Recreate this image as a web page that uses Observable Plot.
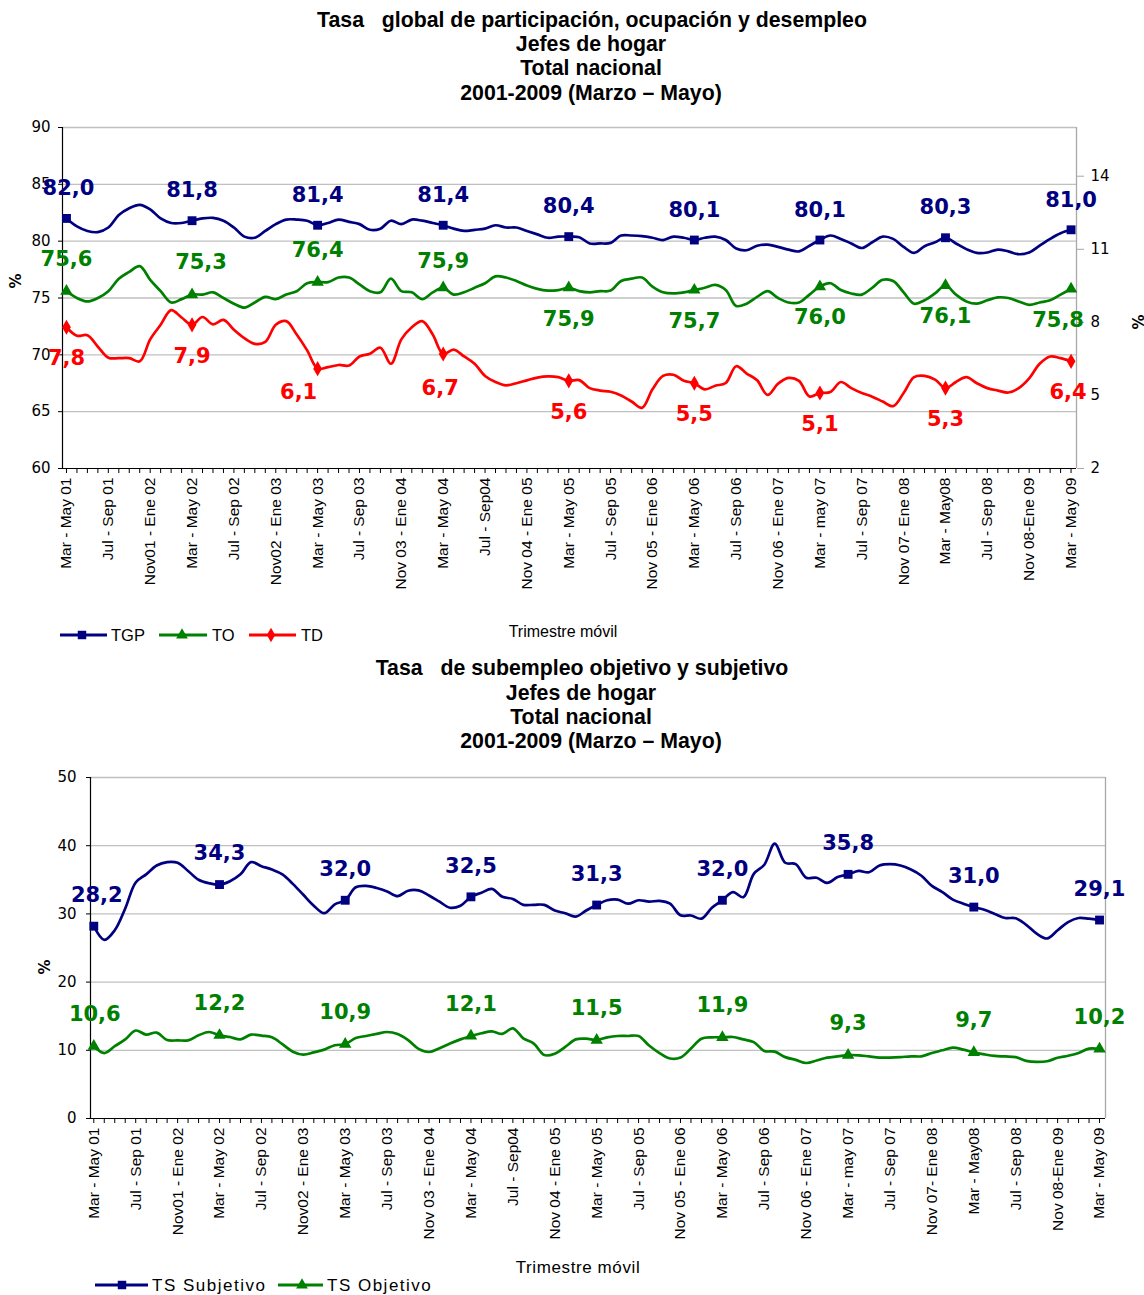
<!DOCTYPE html>
<html>
<head>
<meta charset="utf-8">
<script src="https://cdn.jsdelivr.net/npm/d3@7"></script>
<script src="https://cdn.jsdelivr.net/npm/@observablehq/plot@0.6"></script>
<style>
  body { margin: 0; background: #fff; font-family: "Liberation Sans", Arial, sans-serif; }
  #wrap { position: relative; width: 1144px; height: 1295px; overflow: hidden; background: #fff; }
  .abs { position: absolute; white-space: pre; line-height: 1; transform: translate(-50%, -50%); }
  .title { font-family: "Liberation Sans", Arial, sans-serif; font-weight: bold; font-size: 21.3px; color: #000; }
  .pct { font-family: "DejaVu Sans", sans-serif; font-weight: bold; font-size: 15px; transform: translate(-50%, -50%) rotate(-90deg); }
  .plot { position: absolute; left: 0; }
  .leg { position: absolute; left: 0; }
</style>
</head>
<body>
<div id="wrap"></div>
<script>
// ---------- DATA ----------
const tickLabels = ["Mar - May 01","Jul - Sep 01","Nov01 - Ene 02","Mar - May 02","Jul - Sep 02","Nov02 - Ene 03","Mar - May 03","Jul - Sep 03","Nov 03 - Ene 04","Mar - May 04","Jul - Sep04","Nov 04 - Ene 05","Mar - May 05","Jul - Sep 05","Nov 05 - Ene 06","Mar - May 06","Jul - Sep 06","Nov 06 - Ene 07","Mar - may 07","Jul - Sep 07","Nov 07- Ene 08","Mar - May08","Jul - Sep 08","Nov 08-Ene 09","Mar - May 09"];

const tgp = [82.0,81.3,80.9,80.8,81.2,82.3,82.9,83.2,82.8,82.0,
             81.6,81.6,81.8,82.0,82.05,81.8,81.2,80.4,80.3,80.9,
             81.5,81.9,81.9,81.8,81.4,81.6,81.9,81.7,81.5,81.0,
             81.1,81.8,81.5,81.9,81.8,81.6,81.4,81.1,80.9,81.0,
             81.1,81.4,81.2,81.2,80.9,80.6,80.3,80.4,80.4,80.35,
             79.8,79.8,79.85,80.5,80.5,80.45,80.3,80.1,80.4,80.3,
             80.1,80.3,80.4,80.1,79.35,79.2,79.6,79.7,79.5,79.25,
             79.1,79.6,80.1,80.5,80.2,79.8,79.4,79.9,80.4,80.2,
             79.5,78.97,79.55,79.9,80.3,79.8,79.3,78.97,79.0,79.26,
             79.1,78.85,79.0,79.6,80.2,80.7,81.0];

const to = [75.6,75.0,74.7,75.0,75.6,76.7,77.3,77.8,76.6,75.6,
            74.6,74.9,75.3,75.3,75.5,75.0,74.5,74.15,74.6,75.1,
            74.9,75.3,75.6,76.3,76.4,76.4,76.8,76.8,76.2,75.6,
            75.5,76.7,75.6,75.5,74.9,75.5,75.9,75.3,75.5,75.9,
            76.3,76.9,76.8,76.5,76.1,75.8,75.65,75.7,75.9,75.6,
            75.5,75.6,75.65,76.5,76.7,76.8,76.0,75.5,75.4,75.5,
            75.7,75.9,76.15,75.7,74.3,74.5,75.1,75.6,75.0,74.6,
            74.6,75.3,76.0,76.3,75.7,75.4,75.3,75.9,76.6,76.5,
            75.5,74.5,74.8,75.4,76.1,75.3,74.7,74.5,74.8,75.05,
            75.0,74.7,74.4,74.6,74.8,75.3,75.8];

const td = [7.8,7.45,7.47,7.0,6.55,6.53,6.53,6.4,7.3,7.9,
            8.5,8.2,7.9,8.22,7.92,8.1,7.7,7.35,7.12,7.2,
            7.9,8.05,7.5,6.85,6.1,6.16,6.25,6.23,6.6,6.71,
            6.96,6.3,7.3,7.8,8.05,7.5,6.7,6.88,6.6,6.3,
            5.8,5.55,5.41,5.5,5.62,5.73,5.78,5.75,5.6,5.63,
            5.3,5.2,5.15,5.0,4.75,4.49,5.25,5.8,5.85,5.6,
            5.5,5.25,5.4,5.51,6.2,5.9,5.62,5.02,5.48,5.72,
            5.6,4.96,5.1,5.14,5.55,5.3,5.1,4.95,4.75,4.56,
            5.1,5.75,5.8,5.65,5.3,5.55,5.75,5.5,5.3,5.2,
            5.12,5.3,5.7,6.3,6.6,6.53,6.4];

const tsSubj = [28.2,26.2,27.6,30.8,34.6,35.8,37.1,37.6,37.5,36.3,
                35.0,34.5,34.3,34.8,35.8,37.6,37.0,36.5,35.8,34.4,
                32.8,31.2,30.1,31.4,32.0,33.9,34.1,33.8,33.3,32.6,
                33.4,33.45,32.7,31.8,30.9,31.2,32.5,33.1,33.67,32.5,
                32.2,31.33,31.33,31.33,30.5,30.1,29.6,30.5,31.3,32.0,
                32.1,31.5,32.0,31.8,31.9,31.5,29.8,29.77,29.3,30.9,
                32.0,33.2,32.45,35.87,37.2,40.3,37.5,37.3,35.3,35.3,
                34.55,35.4,35.8,36.3,36.1,37.1,37.3,37.1,36.5,35.6,
                34.1,33.2,32.1,31.5,31.0,30.6,30.0,29.4,29.37,28.4,
                27.1,26.4,27.6,28.8,29.4,29.3,29.1];

const tsObj = [10.6,9.6,10.6,11.6,12.9,12.3,12.6,11.5,11.46,11.46,
               12.2,12.68,12.2,11.95,11.6,12.3,12.15,11.9,10.9,9.8,
               9.37,9.7,10.1,10.75,10.9,11.8,12.1,12.4,12.68,12.4,
               11.5,10.2,9.75,10.3,11.0,11.6,12.1,12.5,12.78,12.4,
               13.22,11.76,10.98,9.3,9.5,10.5,11.6,11.7,11.5,11.9,
               12.1,12.1,12.1,10.7,9.6,8.8,8.93,10.25,11.7,11.9,
               11.9,11.95,11.6,11.2,9.9,9.8,9.0,8.6,8.14,8.5,
               8.93,9.1,9.3,9.27,9.1,8.93,8.93,9.0,9.12,9.12,
               9.6,10.0,10.4,10.1,9.7,9.4,9.17,9.1,9.0,8.45,
               8.3,8.4,8.9,9.2,9.6,10.25,10.2];

const leftTicksTop = [60, 65, 70, 75, 80, 85, 90];
const rightTicksTop = [2, 5, 8, 11, 14];
const leftTicksBottom = [0, 10, 20, 30, 40, 50];

// ---------- HELPERS ----------
const NAVY = "#000080", GREEN = "#008000", RED = "#ff0000";
const idx = d3.range(tgp.length);
const markerIdx = idx.filter(i => i % 12 === 0);
const fmt = v => v.toFixed(1).replace(".", ",");
const toL = v => 60 + (v - 2) * 30 / 14;      // right axis (2..16) onto left (60..90)
const fromL = L => 2 + (L - 60) * 14 / 30;
const labelFont = {fontSize: 21, fontWeight: "bold", fontFamily: "DejaVu Sans, sans-serif"};
const xTickFormat = i => (i % 4 === 0 ? tickLabels[i / 4] : "");

function labels(getY, valueOf, color, dyFn, nudge) {
  return markerIdx.map(i => {
    const [ndx, ndy] = nudge[i] || [0, 0];
    return Plot.text([i], {
      x: d => d, y: getY, text: d => fmt(valueOf(d)),
      fill: color, dx: ndx, dy: dyFn(i) + ndy, ...labelFont
    });
  });
}

const wrap = document.getElementById("wrap");
function addText(cls, text, x, y, extra = "") {
  const d = document.createElement("div");
  d.className = "abs " + cls;
  d.textContent = text;
  d.style.cssText += `left:${x}px;top:${y}px;${extra}`;
  wrap.appendChild(d);
}

// ---------- TITLES ----------
addText("title", "Tasa   global de participación, ocupación y desempleo", 592, 21);
addText("title", "Jefes de hogar", 591, 45);
addText("title", "Total nacional", 591, 69);
addText("title", "2001-2009 (Marzo – Mayo)", 591, 94);

addText("title", "Tasa   de subempleo objetivo y subjetivo", 582, 669);
addText("title", "Jefes de hogar", 581, 694);
addText("title", "Total nacional", 581, 718);
addText("title", "2001-2009 (Marzo – Mayo)", 591, 742);

// ---------- TOP CHART ----------
const topPlot = Plot.plot({
  width: 1144, height: 490,
  marginTop: 17, marginBottom: 132, marginLeft: 62, marginRight: 68,
  style: {fontFamily: "'Liberation Sans', Arial, sans-serif", fontSize: "15px", background: "transparent", overflow: "visible"},
  x: {domain: [-0.38, 96.52], axis: null},
  y: {domain: [60, 90], axis: null},
  marks: [
    Plot.ruleY(leftTicksTop.filter(t => t > 60), {stroke: "#c0c0c0", strokeWidth: 1.3}),
    Plot.ruleX([96.52], {stroke: "#a8a8a8", strokeWidth: 1.3}),
    Plot.ruleX([-0.38], {stroke: "#000", strokeWidth: 1.2}),
    Plot.ruleY([60], {stroke: "#000", strokeWidth: 1.2}),
    Plot.axisY({ticks: leftTicksTop, anchor: "left", tickSize: 4, tickPadding: 8, label: null,
                fontFamily: "DejaVu Sans, sans-serif", fontSize: 15}),
    Plot.axisY({ticks: rightTicksTop.map(toL), anchor: "right", tickSize: 7, tickPadding: 7, label: null,
                tickFormat: d => String(Math.round(fromL(d))), stroke: "#a8a8a8", fill: "#000",
                fontFamily: "DejaVu Sans, sans-serif", fontSize: 15}),
    Plot.axisX({ticks: idx, tickFormat: xTickFormat, tickRotate: -90, tickSize: 5, tickPadding: 4,
                label: null, fontSize: 15.5}),
    Plot.line(idx, {x: d => d, y: i => tgp[i], stroke: NAVY, strokeWidth: 2.7, curve: "catmull-rom"}),
    Plot.line(idx, {x: d => d, y: i => to[i], stroke: GREEN, strokeWidth: 2.7, curve: "catmull-rom"}),
    Plot.line(idx, {x: d => d, y: i => toL(td[i]), stroke: RED, strokeWidth: 2.7, curve: "catmull-rom"}),
    Plot.dot(markerIdx, {x: d => d, y: i => tgp[i], symbol: "square", r: 5, fill: NAVY, stroke: "none"}),
    Plot.dot(markerIdx, {x: d => d, y: i => to[i], symbol: "triangle", r: 4.6, fill: GREEN, stroke: "none"}),
    Plot.dot(markerIdx, {x: d => d, y: i => toL(td[i]), symbol: "diamond", r: 4.6, fill: RED, stroke: "none"}),
    ...labels(i => tgp[i], i => tgp[i], NAVY, () => -30, {0: [2, 0]}),
    ...labels(i => to[i], i => to[i], GREEN, i => (i <= 24 ? -32 : i === 36 ? -27 : 31), {12: [9, 0], 96: [-13, 0]}),
    ...labels(i => toL(td[i]), i => td[i], RED, () => 31, {24: [-19, -7], 36: [-3, 3], 96: [-3, 0]})
  ]
});
topPlot.classList.add("plot");
topPlot.style.top = "110px";
wrap.appendChild(topPlot);

addText("pct", "%", 16, 281);
addText("pct", "%", 1139, 322);
addText("", "Trimestre móvil", 563, 632, "font-size:16px;");

// ---------- BOTTOM CHART ----------
const botPlot = Plot.plot({
  width: 1144, height: 490,
  marginTop: 17, marginBottom: 132, marginLeft: 90, marginRight: 39,
  style: {fontFamily: "'Liberation Sans', Arial, sans-serif", fontSize: "15px", background: "transparent", overflow: "visible"},
  x: {domain: [-0.315, 96.57], axis: null},
  y: {domain: [0, 50], axis: null},
  marks: [
    Plot.ruleY(leftTicksBottom.filter(t => t > 0), {stroke: "#c0c0c0", strokeWidth: 1.3}),
    Plot.ruleX([96.57], {stroke: "#a8a8a8", strokeWidth: 1.3}),
    Plot.ruleX([-0.315], {stroke: "#000", strokeWidth: 1.2}),
    Plot.ruleY([0], {stroke: "#000", strokeWidth: 1.2}),
    Plot.axisY({ticks: leftTicksBottom, anchor: "left", tickSize: 4, tickPadding: 10, label: null,
                fontFamily: "DejaVu Sans, sans-serif", fontSize: 15}),
    Plot.axisX({ticks: idx, tickFormat: xTickFormat, tickRotate: -90, tickSize: 5, tickPadding: 4,
                label: null, fontSize: 15.5}),
    Plot.line(idx, {x: d => d, y: i => tsSubj[i], stroke: NAVY, strokeWidth: 2.7, curve: "catmull-rom"}),
    Plot.line(idx, {x: d => d, y: i => tsObj[i], stroke: GREEN, strokeWidth: 2.7, curve: "catmull-rom"}),
    Plot.dot(markerIdx, {x: d => d, y: i => tsSubj[i], symbol: "square", r: 5, fill: NAVY, stroke: "none"}),
    Plot.dot(markerIdx, {x: d => d, y: i => tsObj[i], symbol: "triangle", r: 4.6, fill: GREEN, stroke: "none"}),
    ...labels(i => tsSubj[i], i => tsSubj[i], NAVY, () => -31, {0: [3, 0]}),
    ...labels(i => tsObj[i], i => tsObj[i], GREEN, () => -32, {0: [1, 0]})
  ]
});
botPlot.classList.add("plot");
botPlot.style.top = "760px";
wrap.appendChild(botPlot);

addText("pct", "%", 45, 967);
addText("", "Trimestre móvil", 578, 1267, "font-size:17px;letter-spacing:0.6px;");

// ---------- LEGENDS ----------
function legend(top, items, fontSize, spacing) {
  const svg = d3.create("svg").attr("width", 600).attr("height", 30)
    .attr("class", "leg").style("top", top + "px");
  for (const it of items) {
    const g = svg.append("g");
    g.append("line").attr("x1", it.x0).attr("x2", it.x1).attr("y1", 15).attr("y2", 15)
      .attr("stroke", it.color).attr("stroke-width", 2.8);
    const s = d3.symbol().type(it.sym).size(it.size);
    g.append("path").attr("d", s()).attr("transform", `translate(${it.m},15)`).attr("fill", it.color);
    g.append("text").attr("x", it.tx).attr("y", 15).attr("dy", "0.36em")
      .attr("font-family", "Liberation Sans, Arial, sans-serif").attr("font-size", fontSize)
      .attr("letter-spacing", spacing).text(it.label);
  }
  wrap.appendChild(svg.node());
}
legend(620, [
  {x0: 60, x1: 107, m: 82, color: NAVY, sym: d3.symbolSquare, size: 72, tx: 111, label: "TGP"},
  {x0: 159, x1: 207, m: 182, color: GREEN, sym: d3.symbolTriangle, size: 60, tx: 212, label: "TO"},
  {x0: 249, x1: 296, m: 271, color: RED, sym: d3.symbolDiamond, size: 60, tx: 301, label: "TD"}
], 16.5, 0);
legend(1270, [
  {x0: 95, x1: 148, m: 122, color: NAVY, sym: d3.symbolSquare, size: 72, tx: 152, label: "TS Subjetivo"},
  {x0: 278, x1: 323, m: 302, color: GREEN, sym: d3.symbolTriangle, size: 60, tx: 327, label: "TS Objetivo"}
], 17, 1.5);
</script>
</body>
</html>
